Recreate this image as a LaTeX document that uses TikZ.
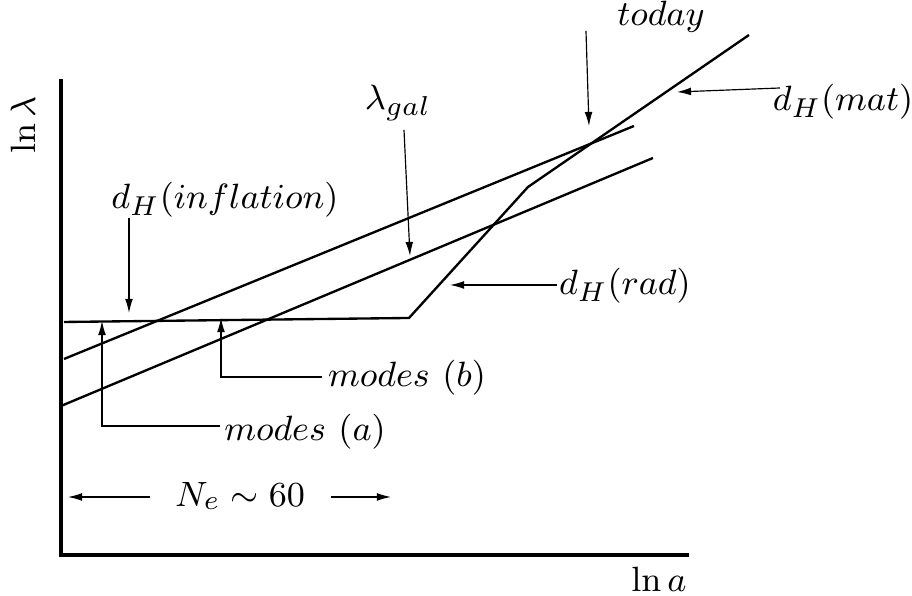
\documentclass[tikz,border=0pt]{standalone}
\usetikzlibrary{arrows.meta}
\begin{document}
\begin{tikzpicture}[x=0.009cm, y=-0.009cm,
    font=\fontsize{9.4}{11}\selectfont,
    axis/.style={line width=0.8pt},
    curve/.style={line width=0.6pt},
    ptr/.style={line width=0.3pt, -{Latex[length=3.6pt,width=2pt]}},
    lbl/.style={inner sep=0pt}
  ]
    \useasboundingbox (0,0) rectangle (912,596);

    % Axes
    \coordinate (ytop) at (61,79);
    \coordinate (orig) at (61,555);
    \coordinate (xend) at (689,555);
    \draw[axis] (ytop) -- (orig) -- (xend);
    \node[lbl, rotate=90] (ylab) at (23,125) {$\ln\lambda$};
    \node[lbl]            (xlab) at (659,579) {$\ln a$};

    % Hubble radius
    \coordinate (inf0) at (64,322);
    \coordinate (inf1) at (409,318);
    \coordinate (rad1) at (528,187);
    \coordinate (mat1) at (749,35);
    \draw[curve] (inf0) -- (inf1) -- (rad1) -- (mat1);

    % Modes
    \coordinate (up0)  at (64,359);
    \coordinate (up1)  at (634,126);
    \coordinate (gal0) at (61,406);
    \coordinate (gal1) at (653,158);
    \draw[curve] (up0) -- (up1);
    \draw[curve] (gal0) -- (gal1);

    % Labels
    \node[lbl] (today) at (661,17)  {$today$};
    \node[lbl] (lgal)  at (398,103) {$\lambda_{gal}$};
    \node[lbl] (dmat)  at (843,102) {$d_H(mat)$};
    \node[lbl] (drad)  at (625,286) {$d_H(rad)$};
    \node[lbl] (dinf)  at (225,200) {$d_H(inflation)$};
    \node[lbl] (modb)  at (407,378) {$modes\ (b)$};
    \node[lbl] (moda)  at (305,432) {$modes\ (a)$};
    \node[lbl] (ne)    at (240,496) {$N_e \sim 60$};

    % Pointers
    \coordinate (todS) at (586,31);  \coordinate (todT) at (589,126);
    \coordinate (galS) at (404,130); \coordinate (galT) at (410,256);
    \coordinate (matS) at (780,88);  \coordinate (matT) at (677,92);
    \coordinate (radS) at (557,285); \coordinate (radT) at (450,285);
    \coordinate (infS) at (129,218); \coordinate (infT) at (129,313);
    \coordinate (mbS)  at (322,377); \coordinate (mbT)  at (221,318);
    \coordinate (maS)  at (220,426); \coordinate (maT)  at (102,321);
    \coordinate (neLS) at (150,497); \coordinate (neLT) at (68,497);
    \coordinate (neRS) at (331,497); \coordinate (neRT) at (391,497);

    \draw[ptr] (todS) -- (todT);
    \draw[ptr] (galS) -- (galT);
    \draw[ptr] (matS) -- (matT);
    \draw[ptr] (radS) -- (radT);
    \draw[ptr] (infS) -- (infT);
    \draw[ptr] (mbS) -| (mbT);
    \draw[ptr] (maS) -| (maT);
    \draw[ptr] (neLS) -- (neLT);
    \draw[ptr] (neRS) -- (neRT);
\end{tikzpicture}
\end{document}
